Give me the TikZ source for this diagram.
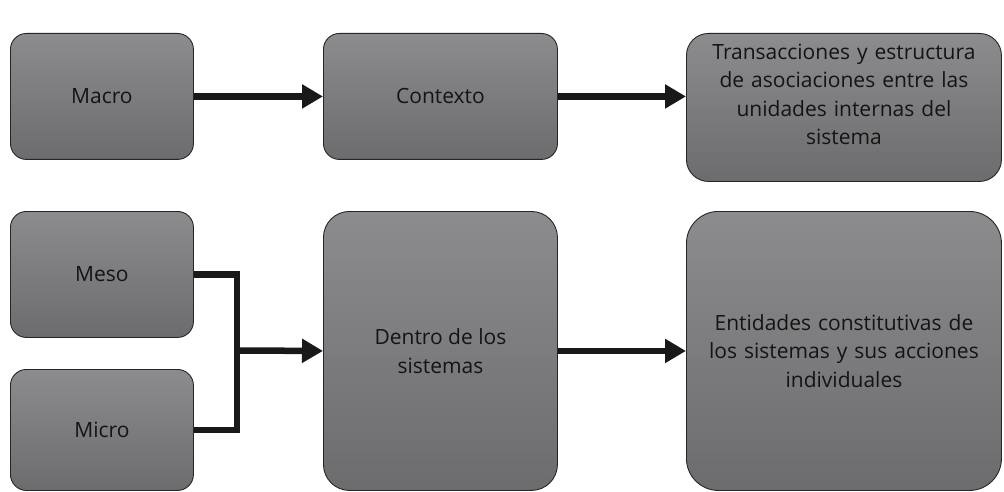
\documentclass[tikz,border=0pt]{standalone}
\usepackage{fontspec}
\setmainfont{Open Sans}
\usetikzlibrary{arrows.meta}

\tikzset{
  box/.style={draw=black!85, line width=0.9pt, top color=boxtop, bottom color=boxbot,
    text=black!92, align=center, anchor=north west, inner sep=0pt,
    font=\fontsize{21}{28.5}\selectfont},
  link/.style={line width=6.5pt, black!90, -{Triangle[length=21pt,width=23pt]}},
  plain/.style={line width=6.5pt, black!90, line join=miter},
}
\definecolor{boxtop}{HTML}{8C8C8E}
\definecolor{boxbot}{HTML}{6C6C6E}

\begin{document}
\begin{tikzpicture}[x=1pt,y=-1pt]
\useasboundingbox (0,0) rectangle (1004,492);
% upper row
\node[box, rounded corners=16pt, minimum width=183pt, minimum height=126pt] (macro) at (10,33) {Macro};
\node[box, rounded corners=16pt, minimum width=234pt, minimum height=126pt] (contexto) at (323,33) {Contexto};
\node[box, rounded corners=22pt, minimum width=315pt, minimum height=148pt, text width=310pt] (trans) at (686,33)
  {Transacciones y estructura\\de asociaciones entre las\\unidades internas del\\sistema\\[-2.5pt]\mbox{}};
% lower row
\node[box, rounded corners=16pt, minimum width=183pt, minimum height=126pt] (meso) at (10,211) {Meso};
\node[box, rounded corners=16pt, minimum width=183pt, minimum height=121pt] (micro) at (10,369) {Micro};
\node[box, rounded corners=26pt, minimum width=234pt, minimum height=279pt] (dentro) at (323,211) {Dentro de los\\sistemas};
\node[box, rounded corners=32pt, minimum width=315pt, minimum height=279pt, text width=310pt] (entidades) at (686,211)
  {Entidades constitutivas de\\los sistemas y sus acciones\\individuales};
% connectors
\coordinate (fork) at (237,350.5);
\draw[link] (macro.east) -- (contexto.west);
\draw[link] (contexto.east) -- (trans.west |- contexto.east);
\draw[plain] (meso.east) -| (fork) |- (micro.east);
\draw[link] (fork) -- (dentro.west);
\draw[link] (dentro.east) -- (entidades.west);
\end{tikzpicture}
\end{document}
